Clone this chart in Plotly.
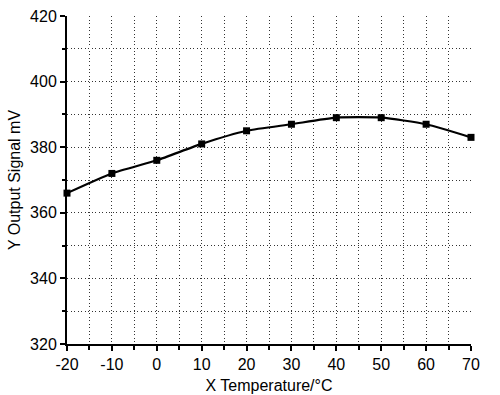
import plotly.graph_objects as go

temps = [-20, -10, 0, 10, 20, 30, 40, 50, 60, 70]
signal = [366, 372, 376, 381, 385, 387, 389, 389, 387, 383]

x_ticks = list(range(-20, 71, 10))
y_ticks = list(range(320, 421, 20))
x_grid = list(range(-15, 66, 5))
y_grid = list(range(330, 411, 10))

fig = go.Figure()
fig.add_trace(go.Scatter(
    x=temps, y=signal, mode="lines+markers",
    line=dict(color="black", width=2.2, shape="spline", smoothing=0.6),
    marker=dict(symbol="square", size=7, color="black"),
    showlegend=False, cliponaxis=False,
))

font = dict(family="Liberation Sans, Arial, sans-serif", size=16, color="black")

fig.update_layout(
    width=500, height=395,
    margin=dict(l=67, r=29, t=16, b=51),
    paper_bgcolor="white", plot_bgcolor="white",
    font=font,
    xaxis=dict(
        range=[-20, 70], tickvals=x_ticks, ticktext=[str(v) for v in x_ticks],
        showgrid=False, zeroline=False, automargin=False,
        showline=True, linecolor="black", linewidth=2,
        ticks="outside", ticklen=5, tickwidth=2, tickcolor="black",
        tickfont=font,
        title=dict(text="X Temperature/°C", font=font, standoff=8),
        minor=dict(tickvals=x_grid, showgrid=True, gridcolor="#333",
                   griddash="1px,2.5px", gridwidth=1, ticks="outside", ticklen=4,
                   tickwidth=1.5, tickcolor="black"),
    ),
    yaxis=dict(
        range=[320, 420], tickvals=y_ticks, ticktext=[str(v) for v in y_ticks],
        showgrid=False, zeroline=False, automargin=False,
        showline=True, linecolor="black", linewidth=2,
        ticks="outside", ticklen=5, tickwidth=2, tickcolor="black",
        tickfont=font,
        title=dict(text="Y Output Signal mV", font=font, standoff=5),
        minor=dict(tickvals=y_grid, showgrid=True, gridcolor="#333",
                   griddash="1px,2.5px", gridwidth=1, ticks="outside", ticklen=3,
                   tickwidth=1.5, tickcolor="black"),
    ),
)

fig.write_html("out.html")
